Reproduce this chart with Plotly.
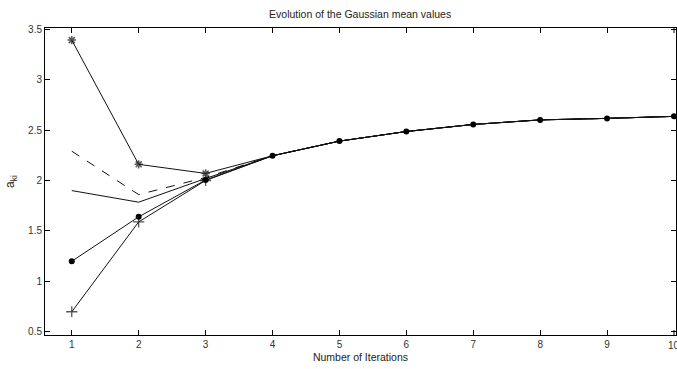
import plotly.graph_objects as go

iterations = [1, 2, 3, 4, 5, 6, 7, 8, 9, 10]
series_star = [3.39, 2.16, 2.07, 2.245, 2.39, 2.485, 2.555, 2.60, 2.615, 2.635]
series_dash = [2.29, 1.86, 2.03, 2.245, 2.39, 2.485, 2.555, 2.60, 2.615, 2.635]
series_solid = [1.90, 1.785, 2.02, 2.245, 2.39, 2.485, 2.555, 2.60, 2.615, 2.635]
series_dot = [1.20, 1.64, 2.005, 2.245, 2.39, 2.485, 2.555, 2.60, 2.615, 2.635]
series_plus = [0.70, 1.59, 2.00, 2.245, 2.39, 2.485, 2.555, 2.60, 2.615, 2.635]

x_ticks = [1, 2, 3, 4, 5, 6, 7, 8, 9, 10]
y_ticks = [0.5, 1, 1.5, 2, 2.5, 3, 3.5]
y_labels = ["0.5", "1", "1.5", "2", "2.5", "3", "3.5"]

FONT = "Liberation Sans, Arial, sans-serif"

# markers of the star / plus series are hidden under the converged dot series after iteration 3
star_sizes = [7 if i <= 3 else 0 for i in iterations]
plus_sizes = [8 if i <= 3 else 0 for i in iterations]

fig = go.Figure()
line = dict(color="#111111", width=1)
fig.add_trace(go.Scatter(x=iterations, y=series_dash, mode="lines",
                         line=dict(color="#111111", width=1, dash="dash")))
fig.add_trace(go.Scatter(x=iterations, y=series_solid, mode="lines", line=line))
fig.add_trace(go.Scatter(x=iterations, y=series_star, mode="lines+markers", line=line,
                         marker=dict(symbol="asterisk-open", size=star_sizes,
                                     line=dict(color="#000000", width=1.5))))
fig.add_trace(go.Scatter(x=iterations, y=series_plus, mode="lines+markers", line=line,
                         marker=dict(symbol="cross-thin-open", size=plus_sizes,
                                     line=dict(color="#000000", width=1.3))))
fig.add_trace(go.Scatter(x=iterations, y=series_dot, mode="lines+markers", line=line,
                         marker=dict(symbol="circle", size=6, color="#000000")))

axis_common = dict(
    showgrid=False, zeroline=False, showline=True, linecolor="#000000", linewidth=1,
    mirror="ticks", ticks="inside", ticklen=5, tickcolor="#000000", tickwidth=1,
    tickfont=dict(family=FONT, size=10, color="#333333"),
)

fig.update_layout(
    width=677, height=369,
    margin=dict(l=45, r=1, t=28, b=34),
    paper_bgcolor="#ffffff", plot_bgcolor="#ffffff",
    showlegend=False,
    title=dict(text="Evolution of the Gaussian mean values", x=0.532, xanchor="center",
               y=0.962, yanchor="middle",
               font=dict(family=FONT, size=10.5, color="#222222")),
    xaxis=dict(range=[0.6, 10.03], tickvals=x_ticks[:-1], ticktext=[str(v) for v in x_ticks[:-1]],
               title=dict(text="Number of Iterations", standoff=4,
                          font=dict(family=FONT, size=10.5, color="#222222")),
               **axis_common),
    yaxis=dict(range=[0.47, 3.51], tickvals=y_ticks, ticktext=y_labels,
               title=dict(text="a<sub>ki</sub>", standoff=10,
                          font=dict(family=FONT, size=12, color="#222222")),
               **axis_common),
)

# last x tick (10) sits on the right edge; draw its tick and label explicitly
last = x_ticks[-1]
fig.add_shape(type="line", xref="x", yref="paper", x0=last, x1=last, y0=0, y1=0.0165,
              line=dict(color="#000000", width=1))
fig.add_shape(type="line", xref="x", yref="paper", x0=last, x1=last, y0=0.9835, y1=1,
              line=dict(color="#000000", width=1))
fig.add_annotation(x=last, xref="x", y=0, yref="paper", yanchor="top", yshift=-3,
                   text=str(last), showarrow=False,
                   font=dict(family=FONT, size=10, color="#333333"))

fig.write_html("out.html")
